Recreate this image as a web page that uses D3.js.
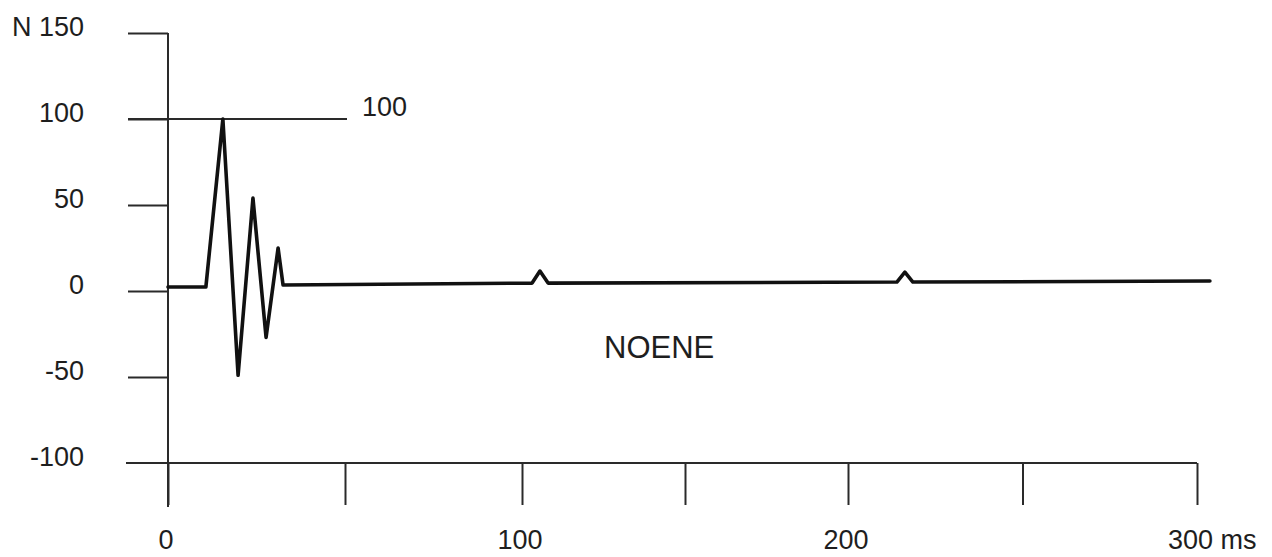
<!DOCTYPE html>
<html>
<head>
<meta charset="utf-8">
<script src="https://cdn.jsdelivr.net/npm/d3@7"></script>
<style>
  body { margin: 0; background: #fff; }
  text { font-family: "Liberation Sans", Arial, sans-serif; fill: #1e1e1e; }
  .axis line, .axis path { stroke: #2a2a2a; stroke-width: 2; }
</style>
</head>
<body>
<div id="chart"></div>
<script>
// force trace (time in ms, force in N)
var timeMs = [0, 10.7, 15.5, 19.8, 24.0, 27.7, 31.1, 32.5, 103.1, 105.5, 108.0, 214.0, 216.3, 218.6, 303.7];
var forceN = [2.3, 2.3, 100, -49, 54, -27, 25, 3.5, 4.6, 11.6, 4.6, 5.2, 11, 5.2, 5.8];

var xTicks = [0, 50, 100, 150, 200, 250, 300];
var xLabels = [{ v: 0, t: "0" }, { v: 100, t: "100" }, { v: 200, t: "200" }, { v: 300, t: "300 ms" }];
var yTicks = [-100, -50, 0, 50, 100, 150];
var yLabels = ["-100", "-50", "0", "50", "100", "N 150"];
var refLevel = 100;
var seriesName = "NOENE";

var width = 1272, height = 557;

var svg = d3.select("#chart").append("svg")
    .attr("width", width)
    .attr("height", height);

// hand drawn original: tick spacing is not quite even, so use a piecewise scale
var x = d3.scaleLinear().domain([0, 100, 200, 300]).range([168, 522, 848, 1197]);
var y = d3.scaleLinear().domain([-100, 150]).range([463, 33]);

// y axis ticks (pointing left)
var yAxis = svg.append("g")
    .attr("class", "axis")
    .attr("transform", "translate(" + x(0) + ",0)")
    .call(d3.axisLeft(y).tickValues(yTicks.filter(function(d) { return d > -100; }))
        .tickSize(40).tickFormat(""));
yAxis.select(".domain").remove();

// y axis line, running down to the x tick length
svg.append("line")
    .attr("x1", x(0)).attr("x2", x(0))
    .attr("y1", y(150)).attr("y2", y(-100) + 44)
    .attr("stroke", "#2a2a2a").attr("stroke-width", 2);

// x axis at -100
var xAxis = svg.append("g")
    .attr("class", "axis")
    .attr("transform", "translate(0," + y(-100) + ")")
    .call(d3.axisBottom(x).tickValues(xTicks).tickSize(42).tickFormat(""));
xAxis.select(".domain").remove();

svg.append("line")
    .attr("x1", x(0) - 42).attr("x2", x(300))
    .attr("y1", y(-100)).attr("y2", y(-100))
    .attr("stroke", "#2a2a2a").attr("stroke-width", 2);

// tick labels
svg.selectAll(".ylab")
    .data(yTicks)
    .enter().append("text")
    .attr("class", "ylab")
    .attr("x", 84)
    .attr("y", function(d) { return y(d) - 7; })
    .attr("dy", "0.36em")
    .attr("text-anchor", "end")
    .style("font-size", "27px")
    .text(function(d, i) { return yLabels[i]; });

svg.selectAll(".xlab")
    .data(xLabels)
    .enter().append("text")
    .attr("class", "xlab")
    .attr("x", function(d) { return d.v === 300 ? x(d.v) - 29 : x(d.v) - 2; })
    .attr("y", 549)
    .attr("text-anchor", function(d) { return d.v === 300 ? "start" : "middle"; })
    .style("font-size", "27px")
    .text(function(d) { return d.t; });

// reference line at 100 N
svg.append("line")
    .attr("x1", x(0) - 40).attr("x2", 347)
    .attr("y1", y(refLevel)).attr("y2", y(refLevel))
    .attr("stroke", "#2a2a2a").attr("stroke-width", 2);

svg.append("text")
    .attr("x", 362)
    .attr("y", y(refLevel) - 13)
    .attr("dy", "0.36em")
    .style("font-size", "27px")
    .text(String(refLevel));

// the force trace
var line = d3.line()
    .x(function(d, i) { return x(timeMs[i]); })
    .y(function(d) { return y(d); });

svg.append("path")
    .datum(forceN)
    .attr("d", line)
    .attr("fill", "none")
    .attr("stroke", "#111")
    .attr("stroke-width", 3.6)
    .attr("stroke-linejoin", "round")
    .attr("stroke-linecap", "round");

svg.append("text")
    .attr("x", 604)
    .attr("y", 358)
    .style("font-size", "31px")
    .text(seriesName);
</script>
</body>
</html>
